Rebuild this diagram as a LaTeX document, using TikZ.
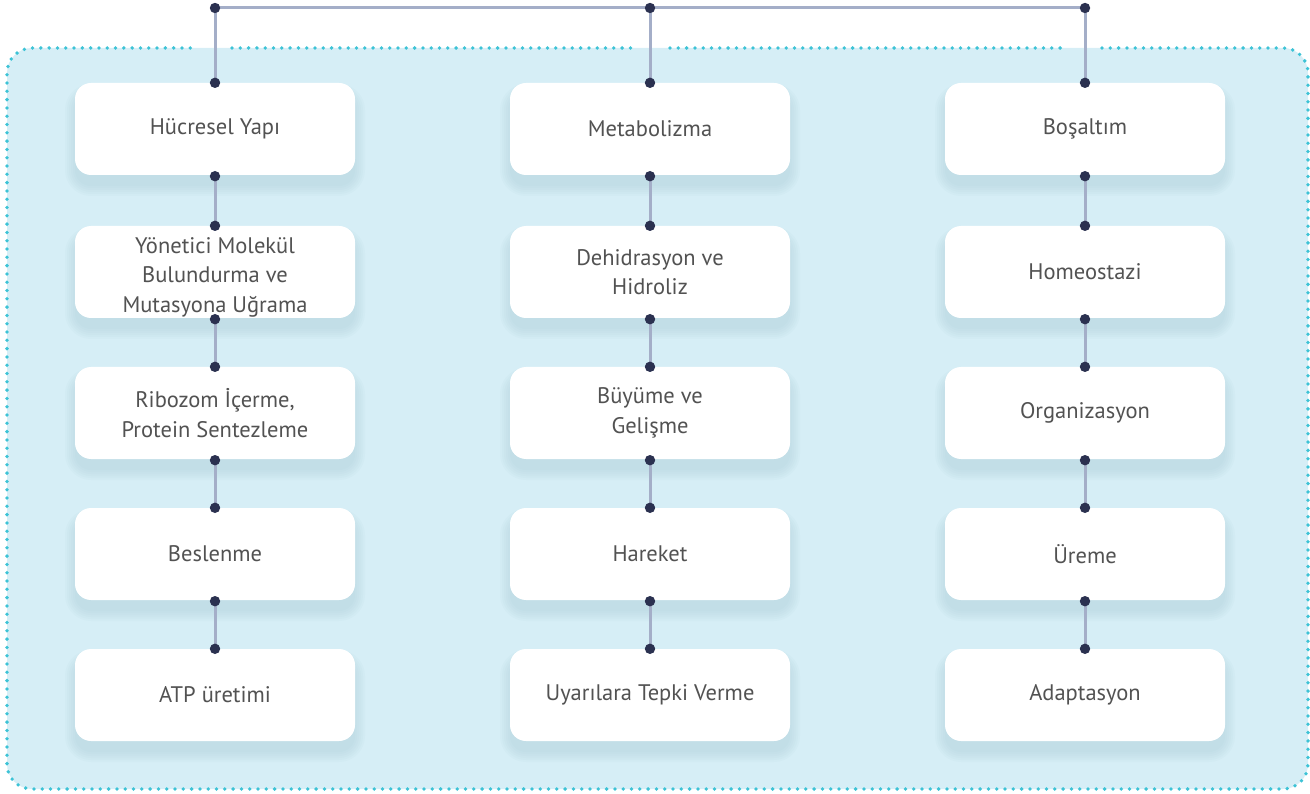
\documentclass[tikz,border=0pt]{standalone}
\usepackage{fontspec}
\setmainfont{PT Sans}
\definecolor{bgfill}{HTML}{D6EEF6}
\definecolor{dotc}{HTML}{3DC3D6}
\definecolor{linec}{HTML}{A4AEC8}
\definecolor{knobc}{HTML}{2B3150}
\definecolor{txt}{HTML}{525252}
\definecolor{shad}{HTML}{A6CAD5}
\begin{document}
\begin{tikzpicture}[x=1pt,y=-1pt,
  box/.style={draw=none, fill=white, rounded corners=16pt, minimum width=280pt, minimum height=92pt,
    align=center, text=txt, font=\fontsize{22.5}{29.5}\selectfont, inner sep=0pt},
  link/.style={draw=linec, line width=3pt},
  knob/.style={fill=knobc}]
\useasboundingbox (0,0) rectangle (1310,794);
% container
\fill[bgfill, rounded corners=25pt] (7,48) rectangle (1308,789);
\begin{scope}[dotc, line width=3.8pt, line cap=round, dash pattern=on 0pt off 8.3pt]
\draw (232,48) -- (632,48);
\draw (670,48) -- (1068,48);
\draw[rounded corners=25pt] (1102,48) -- (1308,48) -- (1308,789) -- (7,789) -- (7,48) -- (197,48);
\end{scope}
% shadows
\foreach \cx in {215,650,1085}{
  \foreach \cy in {129,272,413,554,695}{
    \foreach \e in {0,2,...,10}{
      \fill[shad, opacity=0.075, rounded corners=16pt+\e pt]
        (\cx-140-\e, \cy-46+11-\e) rectangle (\cx+140+\e, \cy+46+11+\e);
    }
  }
}
% boxes
\node[box] (h1) at (215,129) {Hücresel Yapı};
\node[box] (h2) at (215,272) {\raisebox{-5pt}[\height][\depth]{\begin{tabular}{@{}c@{}}Yönetici Molekül\\Bulundurma ve\\Mutasyona Uğrama\end{tabular}}};
\node[box] (h3) at (215,413) {Ribozom İçerme,\\Protein Sentezleme};
\node[box] (h4) at (215,554) {Beslenme};
\node[box] (h5) at (215,695) {ATP üretimi};
\node[box] (m1) at (650,129) {Metabolizma};
\node[box] (m2) at (650,272) {Dehidrasyon ve\\Hidroliz};
\node[box] (m3) at (650,413) {Büyüme ve\\Gelişme};
\node[box] (m4) at (650,554) {Hareket};
\node[box] (m5) at (650,695) {Uyarılara Tepki Verme};
\node[box] (b1) at (1085,129) {Boşaltım};
\node[box] (b2) at (1085,272) {Homeostazi};
\node[box] (b3) at (1085,413) {Organizasyon};
\node[box] (b4) at (1085,554) {Üreme};
\node[box] (b5) at (1085,695) {Adaptasyon};
% top connectors
\coordinate (t1) at (215,8);
\coordinate (t2) at (650,8);
\coordinate (t3) at (1085,8);
\draw[link] (t1) -- (t3);
\foreach \t/\n in {t1/h1,t2/m1,t3/b1}{
  \draw[link] (\t) -- (\n.north);
  \fill[knob] (\t) circle (5.2pt);
  \fill[knob] (\n.north) circle (5.2pt);
}
% vertical connectors
\foreach \c in {h,m,b}{
  \foreach \a/\b in {1/2,2/3,3/4,4/5}{
    \draw[link] (\c\a.south) -- (\c\b.north);
    \fill[knob] ([yshift=-1pt]\c\a.south) circle (5.2pt);
    \fill[knob] (\c\b.north) circle (5.2pt);
  }
}
\end{tikzpicture}
\end{document}
